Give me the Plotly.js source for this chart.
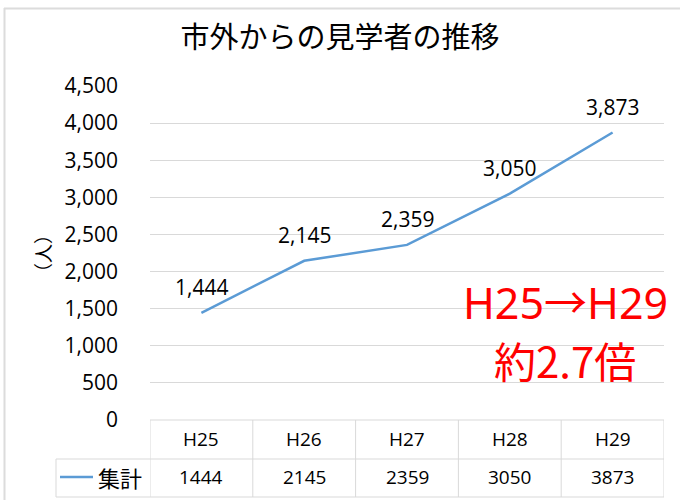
<!DOCTYPE html>
<html><head><meta charset="utf-8">
<script src="https://cdn.plot.ly/plotly-3.0.1.min.js"></script>
<style>html,body{margin:0;padding:0;background:#fff}#c{width:680px;height:500px}</style>
</head><body><div id="c"></div>
<script>
const categories = ['H25','H26','H27','H28','H29'];
const values = [1444, 2145, 2359, 3050, 3873];
const seriesName = '集計';
const chartTitle = '市外からの見学者の推移';
const yTitle = '（人）';
const noteLines = ['H25→H29', '約2.7倍'];

const L = 150, R = 16, T = 86, B = 80, Wd = 680, Ht = 500;
const pw = Wd - L - R, ph = Ht - T - B;
const px = v => (v - L) / pw;
const py = v => (Ht - B - v) / ph;
const grid = '#d9d9d9';
const JP = '"Noto Sans CJK JP", "Noto Sans", sans-serif';
const NUM = '"Open Sans", "Noto Sans", sans-serif';

const shapes = [];
const annotations = [];
// outer chart border (top and left only visible)
shapes.push({type:'line', xref:'paper', yref:'paper', x0:px(4), x1:px(700), y0:py(8.5), y1:py(8.5), line:{color:'#dcdcdc', width:2}, layer:'below'});
shapes.push({type:'line', xref:'paper', yref:'paper', x0:px(4.5), x1:px(4.5), y0:py(8), y1:py(520), line:{color:'#dcdcdc', width:2}, layer:'below'});
// table lines
const rowTop = 420, rowMid = 459, rowBot = 497, leftEdge = 56;
shapes.push({type:'line', xref:'x', yref:'paper', x0:-0.5, x1:categories.length-0.5, y0:py(rowTop), y1:py(rowTop), line:{color:grid, width:1}});
[rowMid, rowBot].forEach(r => shapes.push({type:'line', xref:'paper', yref:'paper', x0:px(leftEdge), x1:1, y0:py(r), y1:py(r), line:{color:grid, width:1}}));
for (let i = 0; i <= categories.length; i++) {
  shapes.push({type:'line', xref:'x', yref:'paper', x0:i-0.5, x1:i-0.5, y0:py(rowTop), y1:py(rowBot), line:{color:grid, width:1}});
}
shapes.push({type:'line', xref:'paper', yref:'paper', x0:px(leftEdge), x1:px(leftEdge), y0:py(rowMid), y1:py(rowBot), line:{color:grid, width:1}});
// legend key
shapes.push({type:'line', xref:'paper', yref:'paper', x0:px(60), x1:px(93), y0:py(477), y1:py(477), line:{color:'#5B9BD5', width:2.5}});
annotations.push({xref:'paper', yref:'paper', x:px(96), y:py(477), xanchor:'left', yanchor:'middle', text:seriesName, showarrow:false, font:{family:JP, size:22, color:'#000'}});

categories.forEach((c, i) => {
  annotations.push({xref:'x', yref:'paper', x:c, y:py(439), yanchor:'middle', text:c, showarrow:false, font:{family:NUM, size:19, color:'#000'}});
  annotations.push({xref:'x', yref:'paper', x:c, y:py(477), yanchor:'middle', text:String(values[i]), showarrow:false, font:{family:NUM, size:19, color:'#000'}});
  annotations.push({xref:'x', yref:'y', x:c, y:values[i], yanchor:'middle', yshift:26, text:values[i].toLocaleString('en-US'), showarrow:false, font:{family:NUM, size:21, color:'#000'}});
});
// y axis title
annotations.push({xref:'paper', yref:'paper', x:px(42), y:py(254), xanchor:'center', yanchor:'middle', textangle:-90, text:yTitle, showarrow:false, font:{family:JP, size:19, color:'#000'}});
// red note (two lines)
annotations.push({xref:'paper', yref:'paper', x:px(565), y:py(302), xanchor:'center', yanchor:'middle', text:noteLines[0], showarrow:false, font:{family:'"Noto Sans", "Noto Sans CJK JP", sans-serif', size:43, color:'#FF0000'}});
annotations.push({xref:'paper', yref:'paper', x:px(565), y:py(359), xanchor:'center', yanchor:'middle', text:noteLines[1], showarrow:false, font:{family:JP, size:42, color:'#FF0000'}});

const trace = {x:categories, y:values, type:'scatter', mode:'lines', name:seriesName, line:{color:'#5B9BD5', width:2.5}, hoverinfo:'skip'};

const layout = {
  width:Wd, height:Ht, margin:{l:L, r:R, t:T, b:B}, showlegend:false,
  paper_bgcolor:'#fff', plot_bgcolor:'#fff',
  title:{text:chartTitle, xref:'container', yref:'container', x:0.5, y:1-38/Ht, xanchor:'center', yanchor:'middle', font:{family:JP, size:29, color:'#000'}},
  xaxis:{type:'category', range:[-0.5, categories.length-0.5], showgrid:false, showline:false, zeroline:false, showticklabels:false, ticks:'', fixedrange:true},
  yaxis:{range:[0,4500], dtick:500, tickformat:',d', showgrid:true, gridcolor:grid, gridwidth:1, zeroline:false, showline:false, ticks:'', ticklabelstandoff:31, tickfont:{family:NUM, size:21, color:'#000'}, fixedrange:true},
  shapes:shapes, annotations:annotations
};
Plotly.newPlot('c', [trace], layout, {displayModeBar:false, staticPlot:true});
</script></body></html>
